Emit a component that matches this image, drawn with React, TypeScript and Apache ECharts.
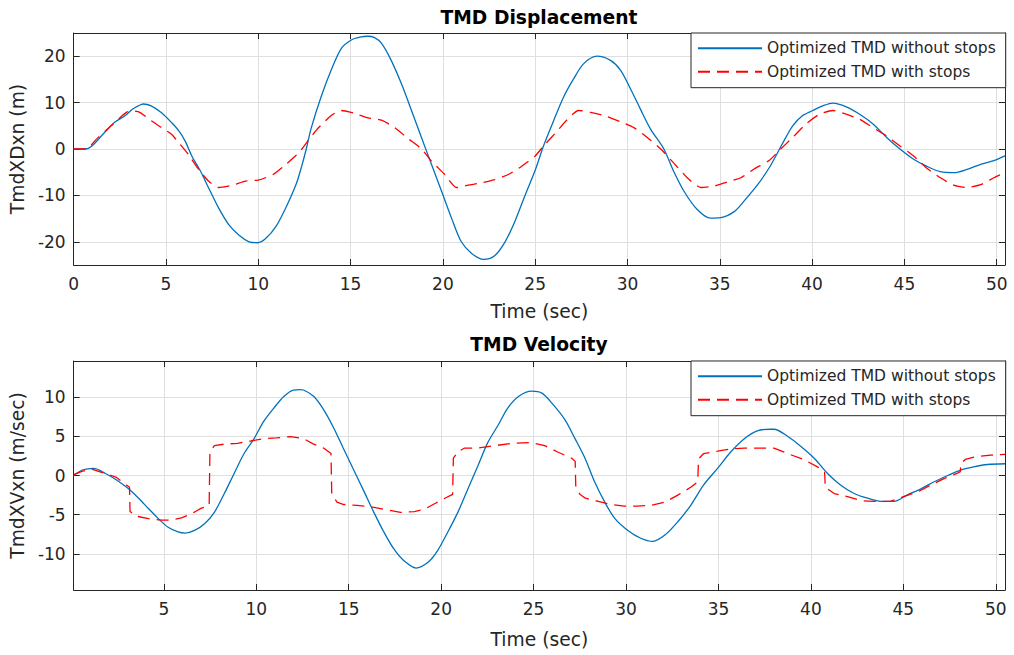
import React, { useEffect, useRef } from "react";
import * as echarts from "echarts";

const NAME_A = "Optimized TMD without stops";
const NAME_B = "Optimized TMD with stops";

const xTicksTop = [0, 5, 10, 15, 20, 25, 30, 35, 40, 45, 50];
const xTicksBottom = [5, 10, 15, 20, 25, 30, 35, 40, 45, 50];
const yTicksDisp = [-20, -10, 0, 10, 20];
const yTicksVel = [-10, -5, 0, 5, 10];

const dispNoStops = [
  [0, 0], [0.66, 0], [1.66, 3.5], [2.2, 5.7], [2.76, 7.1], [3.2, 8.6], [3.5, 9.3], [3.77, 9.7], [4.2, 9.3],
  [4.76, 7.8], [5.3, 5.7], [5.68, 4.0], [6.04, 1.7], [6.4, -1.5], [6.86, -4.7], [7.3, -8.3], [7.85, -12.7],
  [8.4, -16.3], [8.96, -18.6], [9.5, -20.0], [9.96, -20.2], [10.4, -19.3], [10.97, -16.6], [11.5, -12.6],
  [12.06, -7.5], [12.33, -4.0], [12.6, 0], [12.86, 4.4], [13.4, 11.2], [13.95, 17.0], [14.5, 21.7],
  [15.04, 23.5], [15.5, 24.1], [15.94, 24.3], [16.3, 24.0], [16.67, 22.8], [17.2, 19.1], [17.75, 14.1],
  [18.3, 8.3], [18.84, 2.5], [19.38, -3.3], [19.93, -9.1], [20.47, -14.9], [21.0, -20.0], [21.56, -22.5],
  [22.2, -23.8], [22.8, -23.0], [23.37, -20.0], [23.9, -15.6], [24.46, -9.9], [25.0, -4.6], [25.45, 0.65],
  [26.0, 6.1], [26.54, 11.2], [27.08, 15.1], [27.63, 18.4], [28.35, 20.0], [29.08, 19.1], [29.62, 17.0],
  [30.16, 13.0], [30.7, 8.6], [31.25, 4.3], [31.97, 0], [32.5, -4.8], [33.06, -9.1], [33.79, -13.1],
  [34.5, -14.9], [35.05, -14.8], [35.78, -13.5], [36.3, -11.3], [37.05, -7.7], [37.67, -4.1], [38.13, -0.8],
  [38.58, 2.5], [38.95, 5.0], [39.49, 7.2], [40.04, 8.3], [40.58, 9.3], [41.13, 9.9], [41.85, 9.1],
  [42.58, 7.5], [43.3, 5.4], [44.04, 2.5], [44.76, 0], [45.5, -2.2], [46.2, -3.7], [46.95, -4.9],
  [47.67, -5.1], [48.4, -4.4], [49.13, -3.3], [49.85, -2.5], [50.45, -1.5],
];

const dispStops = [
  [0, 0], [0.66, 0], [1.3, 2.4], [2.03, 5.0], [2.85, 7.9], [3.2, 8.2], [3.58, 7.9], [4.2, 6.1], [4.76, 4.6],
  [5.3, 3.2], [5.68, 1.4], [6.22, -1.2], [6.77, -4.4], [7.3, -6.9], [7.85, -8.3], [8.6, -7.8], [9.3, -6.9],
  [10.0, -6.7], [10.8, -5.5], [11.5, -3.3], [12.2, -0.8], [12.68, 1.7], [13.2, 4.3], [13.95, 7.2],
  [14.5, 8.3], [15.2, 7.7], [15.94, 6.7], [16.67, 6.2], [17.4, 4.6], [18.1, 2.3], [18.84, 0], [19.38, -2.6],
  [20.1, -5.5], [20.74, -8.3], [21.37, -7.8], [22.1, -7.3], [22.8, -6.6], [23.55, -5.5], [24.27, -3.7],
  [25.0, -1.5], [25.45, 0.65], [26.2, 3.9], [26.7, 6.2], [27.35, 8.3], [28.0, 7.9], [28.9, 7.0], [29.6, 5.9],
  [30.35, 4.6], [31.07, 2.5], [31.8, 0], [32.5, -3.0], [33.24, -6.2], [33.97, -8.3], [34.7, -8.0],
  [35.4, -7.1], [36.14, -6.2], [36.86, -4.3], [37.67, -2.5], [38.2, -0.4], [38.95, 2.5], [39.67, 5.4],
  [40.4, 7.5], [41.13, 8.3], [41.85, 7.5], [42.58, 6.4], [43.3, 4.6], [44.04, 2.8], [44.76, 0.65],
  [45.5, -1.5], [46.2, -4.1], [46.95, -6.2], [47.67, -7.8], [48.4, -8.3], [49.13, -7.7], [49.85, -6.2],
  [50.45, -5.1],
];

const velNoStops = [
  [0.12, 0], [0.59, 0.7], [1.21, 0.9], [1.84, 0.26], [2.46, -0.6], [3.09, -1.7], [3.63, -2.9], [4.16, -4.2],
  [4.7, -5.5], [5.23, -6.6], [5.77, -7.2], [6.13, -7.35], [6.66, -7.0], [7.2, -6.15], [7.73, -4.7],
  [8.27, -2.3], [8.8, 0.26], [9.34, 2.8], [9.88, 4.7], [10.4, 6.9], [10.95, 8.6], [11.5, 10.1], [12.0, 10.9],
  [12.36, 10.95], [12.55, 10.9], [13.1, 10.1], [13.64, 8.4], [14.2, 6.0], [14.7, 3.5], [15.27, 0.7],
  [15.8, -1.9], [16.36, -4.7], [16.9, -7.2], [17.45, -9.4], [18.0, -10.9], [18.64, -11.8], [19.27, -11.1],
  [19.8, -9.6], [20.36, -7.2], [20.9, -4.7], [21.45, -1.7], [22.0, 1.3], [22.5, 4.1], [23.1, 6.5],
  [23.6, 8.6], [24.2, 10.1], [24.9, 10.75], [25.45, 10.5], [26.0, 9.2], [26.7, 7.1], [27.24, 4.7],
  [27.78, 2.2], [28.3, -0.8], [28.85, -3.4], [29.4, -5.5], [30.1, -7.0], [30.8, -8.0], [31.45, -8.4],
  [32.1, -7.6], [32.8, -5.9], [33.5, -3.8], [34.2, -1.2], [34.95, 0.9], [35.66, 3.0], [36.4, 4.7],
  [37.1, 5.7], [37.8, 5.9], [38.0, 5.9], [38.74, 5.0], [39.46, 3.7], [40.18, 2.2], [40.9, 0.26],
  [41.6, -1.2], [42.34, -2.3], [43.06, -2.9], [43.78, -3.3], [44.5, -3.3], [45.2, -2.5], [45.95, -1.7],
  [46.67, -0.8], [47.4, 0], [48.1, 0.7], [48.8, 1.1], [49.55, 1.4], [50.5, 1.5],
];

const velStops = [
  [0.12, 0.1], [0.6, 0.55], [1.1, 0.8], [1.84, 0.26], [2.4, -0.2], [2.8, -0.9], [3.14, -1.5], [3.17, -4.6],
  [3.54, -5.2], [4.16, -5.5], [4.87, -5.7], [5.4, -5.7], [5.95, -5.4], [6.48, -4.9], [7.0, -4.2],
  [7.45, -3.8], [7.49, 3.0], [7.73, 3.8], [8.27, 4.0], [8.98, 4.1], [9.7, 4.4], [10.4, 4.7], [11.1, 4.8],
  [11.84, 4.96], [12.55, 4.7], [13.1, 4.0], [13.64, 3.5], [14.04, 2.8], [14.08, -2.3], [14.36, -3.4],
  [14.73, -3.7], [15.45, -3.8], [16.2, -4.0], [17.1, -4.4], [17.8, -4.7], [18.55, -4.6], [19.1, -4.3],
  [19.64, -3.6], [20.2, -2.9], [20.62, -2.4], [20.66, 2.2], [20.9, 3.0], [21.27, 3.5], [22.0, 3.5],
  [22.9, 3.8], [23.8, 4.1], [24.9, 4.2], [25.6, 3.8], [26.3, 3.0], [27.06, 2.2], [27.25, 1.8],
  [27.28, -1.3], [27.5, -2.4], [27.8, -2.9], [28.5, -3.3], [29.2, -3.7], [29.9, -3.9], [30.6, -3.9],
  [31.36, -3.8], [32.1, -3.4], [32.8, -2.5], [33.5, -1.5], [33.88, -0.8], [33.92, 2.1], [34.2, 2.8],
  [34.95, 3.1], [35.66, 3.4], [36.4, 3.5], [37.45, 3.5], [38.0, 3.5], [38.74, 2.8], [39.64, 2.0],
  [40.36, 1.1], [40.74, 0.5], [40.78, -1.5], [41.26, -2.3], [41.98, -2.7], [42.7, -3.2], [43.4, -3.3],
  [44.3, -3.3], [45.0, -2.7], [45.77, -2.1], [46.5, -1.2], [47.2, -0.4], [47.9, 0.26], [48.08, 0.5],
  [48.12, 1.6], [48.4, 2.1], [48.9, 2.4], [49.73, 2.6], [50.5, 2.7],
];

const FONT = "'DejaVu Sans', 'Liberation Sans', Arial, sans-serif";
const AX = "#262626";
const GRIDC = "#dfdfdf";
const BLUE = "#0072BD";
const RED = "#FF0000";

function xAxesFor(gridIndex: number, min: number, max: number, ticks: number[], nameGap: number) {
  return [
    {
      type: "value", gridIndex, min, max, position: "bottom",
      name: "Time (sec)", nameLocation: "middle", nameGap,
      nameTextStyle: { fontFamily: FONT, fontSize: 18.7, color: AX },
      axisLine: { show: true, onZero: false, lineStyle: { color: AX, width: 1 } },
      axisTick: { show: true, inside: true, length: 6, customValues: ticks, lineStyle: { color: AX } },
      axisLabel: { show: true, customValues: ticks, margin: 10, fontFamily: FONT, fontSize: 17, color: AX },
      splitLine: { show: true, lineStyle: { color: GRIDC, width: 1 } },
    },
    {
      type: "value", gridIndex, min, max, position: "top",
      axisLine: { show: true, onZero: false, lineStyle: { color: AX, width: 1 } },
      axisTick: { show: true, inside: true, length: 6, customValues: ticks, lineStyle: { color: AX } },
      axisLabel: { show: false },
      splitLine: { show: false },
    },
  ];
}

function yAxesFor(gridIndex: number, min: number, max: number, ticks: number[], name: string) {
  return [
    {
      type: "value", gridIndex, min, max, position: "left",
      name, nameLocation: "middle", nameGap: 37,
      nameTextStyle: { fontFamily: FONT, fontSize: 18.7, color: AX },
      axisLine: { show: true, onZero: false, lineStyle: { color: AX, width: 1 } },
      axisTick: { show: true, inside: true, length: 6, customValues: ticks, lineStyle: { color: AX } },
      axisLabel: { show: true, customValues: ticks, margin: 8, fontFamily: FONT, fontSize: 17, color: AX },
      splitLine: { show: true, lineStyle: { color: GRIDC, width: 1 } },
    },
    {
      type: "value", gridIndex, min, max, position: "right",
      axisLine: { show: true, onZero: false, lineStyle: { color: AX, width: 1 } },
      axisTick: { show: true, inside: true, length: 6, customValues: ticks, lineStyle: { color: AX } },
      axisLabel: { show: false },
      splitLine: { show: false },
    },
  ];
}

function legendAt(top: number) {
  return {
    left: 691, top, orient: "vertical",
    itemWidth: 64, itemHeight: 16, itemGap: 7.4,
    padding: [7.3, 10, 8, 6],
    backgroundColor: "#ffffff", borderColor: AX, borderWidth: 1, borderRadius: 0,
    itemStyle: { opacity: 0 },
    textStyle: { fontFamily: FONT, fontSize: 15.5, color: AX },
    data: [NAME_A, NAME_B],
  };
}

export default function App() {
  const ref = useRef<HTMLDivElement>(null);
  useEffect(() => {
    if (!ref.current) return;
    const chart = echarts.init(ref.current, null, { renderer: "svg" });
    const lineA = (xi: number, yi: number, data: number[][]) => ({
      type: "line", name: NAME_A, xAxisIndex: xi, yAxisIndex: yi, data,
      symbol: "none", smooth: 0.3, lineStyle: { color: BLUE, width: 1.3 }, itemStyle: { color: BLUE },
    });
    const lineB = (xi: number, yi: number, data: number[][], smooth: number) => ({
      type: "line", name: NAME_B, xAxisIndex: xi, yAxisIndex: yi, data,
      symbol: "none", smooth, lineStyle: { color: RED, width: 1.3, type: [12, 7] }, itemStyle: { color: RED },
    });
    chart.setOption({
      animation: false,
      backgroundColor: "#ffffff",
      grid: [
        { left: 72, top: 33, width: 933, height: 232 },
        { left: 72, top: 361, width: 933, height: 229 },
      ],
      xAxis: [
        ...xAxesFor(0, 0, 50.45, xTicksTop, 37),
        ...xAxesFor(1, 0.12, 50.5, xTicksBottom, 40),
      ],
      yAxis: [
        ...yAxesFor(0, -25, 25, yTicksDisp, "TmdXDxn (m)"),
        ...yAxesFor(1, -14.6, 14.6, yTicksVel, "TmdXVxn (m/sec)"),
      ],
      legend: [legendAt(33), legendAt(361)],
      graphic: [
        {
          type: "text", x: 539, y: 17,
          style: { text: "TMD Displacement", fill: "#000", font: `bold 18.7px ${FONT}`, align: "center", verticalAlign: "middle" },
        },
        {
          type: "text", x: 539, y: 344,
          style: { text: "TMD Velocity", fill: "#000", font: `bold 18.7px ${FONT}`, align: "center", verticalAlign: "middle" },
        },
      ],
      series: [
        lineA(0, 0, dispNoStops),
        lineB(0, 0, dispStops, 0.2),
        lineA(2, 2, velNoStops),
        lineB(2, 2, velStops, 0),
      ],
    });
    return () => chart.dispose();
  }, []);
  return <div ref={ref} style={{ position: "fixed", left: 0, top: 0, width: 1014, height: 655 }} />;
}
